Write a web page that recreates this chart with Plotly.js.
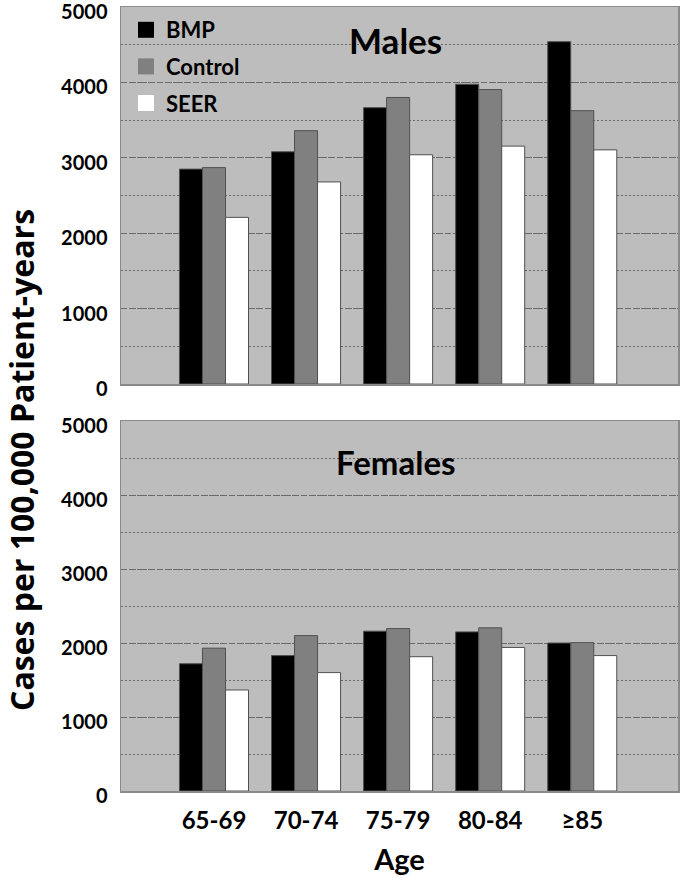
<!DOCTYPE html>
<html>
<head>
<meta charset="utf-8">
<script src="https://cdn.plot.ly/plotly-3.0.1.min.js"></script>
<style>html,body{margin:0;padding:0;background:#fff;}#chart{width:680px;height:880px;}</style>
</head>
<body>
<div id="chart"></div>
<script>
const categories = ['65-69', '70-74', '75-79', '80-84', '≥85'];
const seriesNames = ['BMP', 'Control', 'SEER'];
const maleBMP = [2850, 3080, 3665, 3975, 4540];
const maleControl = [2870, 3360, 3800, 3905, 3625];
const maleSEER = [2210, 2680, 3040, 3155, 3105];
const femaleBMP = [1720, 1830, 2160, 2150, 2000];
const femaleControl = [1930, 2100, 2195, 2205, 2005];
const femaleSEER = [1365, 1600, 1815, 1940, 1830];
const yTicks = [0, 1000, 2000, 3000, 4000, 5000];

const colors = ['#000000', '#808080', '#ffffff'];
const FONT = 'Lato, "Open Sans", sans-serif';
const W = 680, H = 880;

const male = [maleBMP, maleControl, maleSEER];
const female = [femaleBMP, femaleControl, femaleSEER];
const traces = [];
seriesNames.forEach((n, i) => {
  traces.push({type: 'bar', name: n, x: categories, y: male[i], xaxis: 'x', yaxis: 'y',
    marker: {color: colors[i], line: {color: '#505050', width: 1}}, showlegend: false, hoverinfo: 'skip'});
  traces.push({type: 'bar', name: n, x: categories, y: female[i], xaxis: 'x2', yaxis: 'y2',
    marker: {color: colors[i], line: {color: '#505050', width: 1}}, showlegend: false, hoverinfo: 'skip'});
  // legend entry
  traces.push({type: 'scatter', mode: 'markers', name: n, x: [null], y: [null], xaxis: 'x', yaxis: 'y',
    marker: {symbol: 'square', size: 19, color: colors[i], line: {width: 0}}, legendgroup: n, showlegend: true});
});

const xRange = [-1.01, 5.04];
const yAxisCommon = {
  range: [0, 5000], tickvals: yTicks, ticktext: yTicks.map(String),
  showgrid: true, gridcolor: '#6a6a6a', gridwidth: 1, griddash: '6px,3px',
  minor: {dtick: 500, tick0: 0, showgrid: true, gridcolor: '#6a6a6a', gridwidth: 1, griddash: '2px,2px'},
  zeroline: false, showline: true, mirror: true, linecolor: '#8a8a8a', linewidth: 1.5,
  ticks: '', tickfont: {family: FONT, size: 20, color: '#000', weight: 'bold'}, ticklabelstandoff: 8,
  ticklabelshift: 5, ticklabeloverflow: 'allow',
  fixedrange: true
};
const xAxisCommon = {
  type: 'category', range: xRange, showgrid: false, zeroline: false,
  showline: true, mirror: true, linecolor: '#8a8a8a', linewidth: 1.5, ticks: '', fixedrange: true
};

const layout = {
  width: W, height: H,
  margin: {l: 0, r: 0, t: 0, b: 0},
  paper_bgcolor: '#ffffff', plot_bgcolor: '#bdbdbd',
  barmode: 'group', bargap: 0.25, bargroupgap: 0,
  showlegend: true,
  legend: {x: 126 / W, y: 1 - 9 / H, xanchor: 'left', yanchor: 'top', bgcolor: 'rgba(0,0,0,0)',
    font: {family: FONT, size: 22, color: '#000', weight: 'bold'}, tracegroupgap: 5, itemwidth: 30},
  xaxis: Object.assign({}, xAxisCommon, {domain: [121 / W, 678 / W], anchor: 'y', showticklabels: false}),
  yaxis: Object.assign({}, yAxisCommon, {domain: [1 - 384 / H, 1 - 7 / H], anchor: 'x'}),
  xaxis2: Object.assign({}, xAxisCommon, {domain: [121 / W, 678 / W], anchor: 'y2', showticklabels: true,
    tickfont: {family: FONT, size: 24, color: '#000', weight: 'bold'}, ticklabelstandoff: 8,
    title: {text: 'Age', font: {family: FONT, size: 29, color: '#000', weight: 'bold'}, standoff: 16}}),
  yaxis2: Object.assign({}, yAxisCommon, {domain: [1 - 791 / H, 1 - 421 / H], anchor: 'x2'}),
  annotations: [
    {text: 'Males', xref: 'paper', yref: 'paper', x: 395 / W, y: 1 - 40 / H, showarrow: false,
      xanchor: 'center', yanchor: 'middle', font: {family: FONT, size: 35, color: '#000', weight: 'bold'}},
    {text: 'Females', xref: 'paper', yref: 'paper', x: 396 / W, y: 1 - 462 / H, showarrow: false,
      xanchor: 'center', yanchor: 'middle', font: {family: FONT, size: 33, color: '#000', weight: 'bold'}},
    {text: 'Cases per 100,000 Patient-years', xref: 'paper', yref: 'paper', x: 21 / W, y: 1 - 460 / H,
      textangle: -90, showarrow: false, xanchor: 'center', yanchor: 'middle',
      font: {family: '"Open Sans", sans-serif', size: 32, color: '#000', weight: 'bold'}}
  ]
};

Plotly.newPlot('chart', traces, layout, {displayModeBar: false, staticPlot: true});
</script>
</body>
</html>
